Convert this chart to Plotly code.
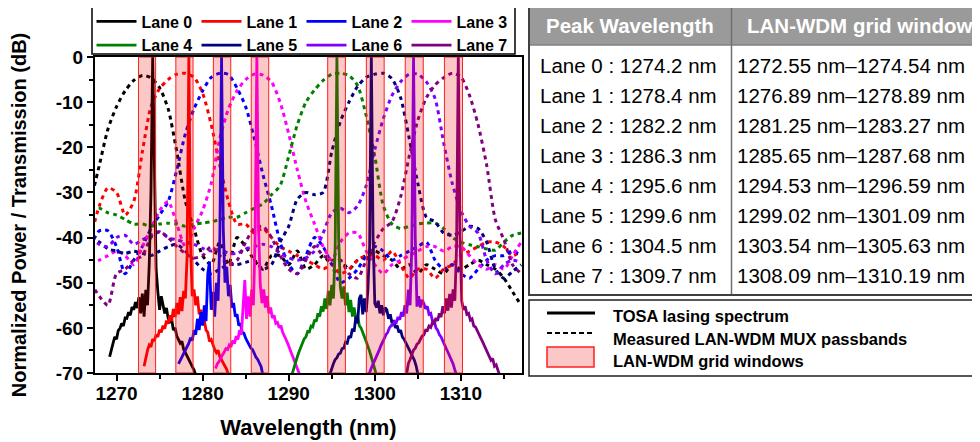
import plotly.graph_objects as go

FONT = "Liberation Sans, Arial, sans-serif"

LANES = ["Lane 0", "Lane 1", "Lane 2", "Lane 3", "Lane 4", "Lane 5", "Lane 6", "Lane 7"]
COLORS = ["#000000", "#ff0000", "#0000ff", "#ff00ff", "#008000", "#000080", "#8000ff", "#800080"]
PEAKS = [1274.2, 1278.4, 1282.2, 1286.3, 1295.6, 1299.6, 1304.5, 1309.7]
WIN_LO = [1272.55, 1276.89, 1281.25, 1285.65, 1294.53, 1299.02, 1303.54, 1308.09]
WIN_HI = [1274.54, 1278.89, 1283.27, 1287.68, 1296.59, 1301.09, 1305.63, 1310.19]

X_TICKS = [1270, 1280, 1290, 1300, 1310]
Y_TICKS = [0, -10, -20, -30, -40, -50, -60, -70]
Y_TICK_TEXT = ["0", "-10", "-20", "-30", "-40", "-50", "-60", "-70"]

# TOSA lasing spectra (dB), sampled every 0.2 nm from the start wavelength
TOSA_START = [1269.2, 1273.2, 1277.2, 1281.5, 1290.4, 1294.8, 1299.3, 1303.7]
TOSA_STEP = 0.2
TOSA_0 = [-66.4, -64.5, -63.4, -62.0, -62.5, -60.6, -60.1, -59.0, -59.6, -57.8,
          -57.9, -56.5, -57.2, -55.4, -56.0, -54.3, -55.6, -53.2, -56.8, -52.4,
          -57.5, -51.6, -55.0, -46.0, -30.0, 0.0, -28.0, -47.0, -52.0, -56.0,
          -53.0, -55.3, -56.8, -55.6, -57.9, -58.6, -58.0, -60.5, -60.0, -61.8,
          -62.5, -63.4, -63.0, -64.8, -65.5, -66.4, -67.0, -67.8, -68.6, -69.3, -70.5]
TOSA_1 = [-68.5, -66.5, -65.0, -63.8, -64.2, -62.5, -62.9, -61.5, -62.0, -60.4,
          -61.0, -59.5, -60.2, -58.4, -59.1, -57.2, -58.5, -55.8, -57.6, -54.5,
          -57.0, -53.2, -56.3, -51.8, -53.5, -44.0, 0.0, -42.0, -53.0, -51.5,
          -55.0, -53.0, -57.0, -56.0, -58.6, -58.4, -60.5, -61.0, -63.0, -62.6,
          -64.0, -64.8, -65.5, -65.0, -66.4, -67.2, -67.8, -68.5, -69.2, -70.5]
TOSA_2 = [-68.0, -67.2, -66.4, -65.6, -64.8, -64.0, -63.4, -62.2, -62.8, -60.5,
          -61.5, -58.0, -60.5, -56.5, -59.5, -55.0, -58.5, -48.0, -45.3, -56.0,
          -52.0, -57.5, -50.0, -54.0, -40.0, 0.0, -38.0, -50.0, -46.5, -53.0,
          -50.5, -55.5, -54.5, -57.5, -57.0, -59.5, -59.0, -61.0, -61.2, -62.3,
          -63.0, -63.6, -64.5, -64.8, -65.8, -66.5, -67.0, -67.8, -68.6, -70.5]
TOSA_3 = [-69.0, -68.0, -67.5, -66.6, -66.0, -65.4, -64.6, -64.8, -63.8, -64.2,
          -62.8, -63.5, -61.8, -62.6, -60.5, -61.5, -56.0, -49.4, -58.0, -53.0,
          -57.5, -51.5, -55.0, -40.0, 0.0, -38.0, -50.5, -54.5, -51.5, -55.5,
          -53.0, -56.8, -55.5, -57.8, -57.2, -59.0, -58.8, -60.0, -59.5, -61.0,
          -61.8, -62.5, -63.5, -64.5, -65.5, -66.4, -67.3, -68.4, -69.5, -70.5]
TOSA_4 = [-70.2, -68.8, -67.5, -66.4, -65.3, -64.2, -63.5, -62.4, -62.0, -60.8,
          -60.9, -59.6, -59.8, -58.2, -58.6, -56.8, -57.5, -55.2, -56.4, -53.5,
          -55.8, -51.8, -55.0, -50.5, -53.5, -42.0, 0.0, -40.0, -51.0, -53.5,
          -50.8, -55.0, -52.2, -56.5, -53.8, -57.5, -55.5, -58.0, -57.2, -59.5,
          -60.0, -61.2, -62.0, -63.0, -64.0, -65.2, -66.5, -68.0, -69.5, -70.5]
TOSA_5 = [-70.2, -68.8, -67.9, -67.0, -66.6, -65.8, -65.6, -64.6, -64.5, -63.2,
          -63.4, -61.8, -62.2, -60.2, -60.8, -57.5, -59.0, -53.5, -52.7, -57.0,
          -53.5, -56.5, -51.5, -42.0, 0.0, -40.0, -54.6, -55.5, -54.0, -56.8,
          -55.0, -57.2, -55.5, -56.0, -58.0, -57.0, -59.0, -58.3, -60.0, -59.5,
          -61.0, -60.5, -62.0, -62.5, -63.4, -64.0, -64.8, -65.6, -66.4, -67.2,
          -68.4, -70.2]
TOSA_6 = [-70.4, -69.3, -68.4, -67.6, -66.8, -66.0, -65.0, -64.0, -63.0, -62.4,
          -61.5, -61.0, -60.0, -59.5, -59.4, -58.6, -58.8, -57.6, -58.2, -56.5,
          -57.5, -55.0, -56.8, -51.5, -55.0, -42.0, 0.0, -40.0, -55.3, -53.0,
          -55.5, -53.8, -54.6, -55.8, -55.2, -57.0, -56.8, -58.5, -58.4, -60.0,
          -60.5, -61.5, -62.0, -63.0, -63.6, -64.6, -65.4, -66.2, -67.0, -68.0,
          -69.3, -70.5]
TOSA_7 = [-70.2, -67.9, -67.0, -66.0, -64.9, -64.5, -63.6, -63.3, -62.7, -61.8,
          -61.6, -60.5, -60.6, -59.6, -59.9, -58.8, -59.2, -57.8, -58.4, -56.8,
          -57.6, -55.2, -56.8, -53.5, -56.2, -52.5, -55.5, -51.5, -54.0, -42.0,
          0.0, -40.0, -54.0, -56.0, -55.2, -57.0, -56.8, -58.3, -58.0, -59.6,
          -59.8, -60.5, -61.5, -62.2, -63.0, -63.8, -64.6, -65.5, -66.4, -67.2,
          -66.8, -68.5, -68.2, -69.5, -70.5]
TOSA = [TOSA_0, TOSA_1, TOSA_2, TOSA_3, TOSA_4, TOSA_5, TOSA_6, TOSA_7]

# Measured LAN-WDM MUX passbands (dB), one value per nm from 1267 to 1317 nm
PB_WL = list(range(1267, 1318))
PB_0 = [-32, -24, -16, -11, -7.5, -5.2, -4.1, -4.6, -6.8, -11.5,
        -21, -32, -38, -44, -46, -41, -46, -40, -42, -45,
        -47, -44, -44, -46, -43, -47, -46, -44, -46, -45,
        -47, -45, -44, -43, -44, -45, -47, -46, -48, -46,
        -47, -48, -46, -47, -46, -45, -46, -47, -49, -52, -55]
PB_1 = [-40, -33, -29, -30, -35, -32, -21, -11, -7, -5,
        -3.8, -3.6, -4.5, -8, -15, -24, -32, -37, -37, -39,
        -38, -40, -42, -43, -44, -45, -46, -47, -46, -48,
        -47, -45, -44, -44, -45, -43, -46, -49, -47, -47,
        -49, -47, -46, -44, -43, -42, -41, -41, -42, -44, -43]
PB_2 = [-42, -38.5, -38.5, -42, -48, -45, -42, -38, -35, -32,
        -25, -17, -11.5, -7.5, -4.5, -3.6, -3.9, -6.9, -11, -18,
        -26, -33, -41, -46, -48, -44, -40, -42, -46, -50,
        -49, -47, -44, -42, -43, -45, -44, -43, -42, -41,
        -45, -47, -46, -48, -49, -47, -45, -44, -44, -43, -44]
PB_3 = [-46, -45, -44, -43, -44, -46, -42, -38, -34, -32,
        -37, -42, -38, -34, -28, -18, -11.5, -7.5, -5, -3.8,
        -4, -5.5, -10, -17, -25, -32, -37, -42, -45, -41,
        -39, -39, -43, -46, -48, -46, -45, -44, -43, -42,
        -42, -43, -42, -42, -44, -46, -47, -46, -47, -44, -41]
PB_4 = [-34, -33.5, -34.5, -35, -36, -37, -37, -37.5, -37, -36.8,
        -37, -37.5, -37, -36.8, -36.5, -36, -35.5, -35.5, -34.5, -33.5,
        -32.5, -30.5, -28.5, -22, -15, -10, -7.3, -5.2, -3.8, -3.6,
        -4.1, -6.3, -13, -22, -33, -37, -38, -37.5, -37, -36.8,
        -36.8, -38, -40, -41, -41.6, -42, -42.5, -42.8, -41, -39.5, -39]
PB_5 = [-40, -41, -42.5, -43, -43.5, -43, -43.5, -44, -43, -42,
        -41.5, -43, -45, -47, -48, -47, -46, -46, -45.5, -45,
        -47, -46, -41, -37.5, -31.5, -30, -30.5, -30, -21, -14.3,
        -10, -6.5, -4.5, -3.8, -3.6, -4.8, -9, -18, -28, -35.5,
        -36.5, -39, -39.5, -38.7, -37.5, -38, -41, -47, -49, -47.5, -46]
PB_6 = [-40, -41.5, -42, -40, -39.5, -41.5, -40.5, -39.5, -38.7, -40,
        -40.5, -41, -41.5, -42.4, -43, -42.5, -43.5, -43.5, -42.5, -42,
        -41.5, -42, -43.5, -44.5, -45, -44.5, -43, -39, -34.5, -33.5,
        -34.5, -33, -28.5, -20.5, -13.6, -8.5, -5.5, -3.8, -3.8, -5.5,
        -9.2, -19, -28, -34, -37.5, -39, -45, -48, -46, -45, -45.5]
PB_7 = [-50, -53, -55, -48, -47, -45, -44, -40, -38.7, -40,
        -42, -43.5, -44.5, -44, -42, -44, -46, -45, -41, -38,
        -37.5, -40, -44, -47, -48, -45, -42, -44, -45, -45,
        -48, -49, -45, -41, -38, -36.5, -31, -22, -14, -9,
        -6.2, -4.6, -3.6, -4.4, -8.5, -15, -24, -36, -40.5, -46, -48]
PB = [PB_0, PB_1, PB_2, PB_3, PB_4, PB_5, PB_6, PB_7]

KEY_LABELS = ["TOSA lasing spectrum", "Measured LAN-WDM MUX passbands", "LAN-WDM grid windows"]
TABLE_HEAD = ["Peak Wavelength", "LAN-WDM grid window"]

# ---------------- layout geometry (pixels, page coordinates) ----------------
OFF = 8                      # page offset of the plot div inside the browser window
W_PX, H_PX = 980 - OFF, 442 - OFF
PL, PR, PT, PB_Y = 95, 522, 57, 373   # plot-area edges in page pixels
ML, MT = PL - OFF, PT - OFF
MR, MB = W_PX - (PR - OFF), H_PX - (PB_Y - OFF)
PW = PR - PL
PH = PB_Y - PT


def px(x):
    return (x - PL) / PW


def py(y):
    return (PB_Y - y) / PH


fig = go.Figure()

for i in range(8):
    fig.add_trace(go.Scatter(
        x=PB_WL, y=PB[i], mode="lines", showlegend=False, hoverinfo="skip",
        line=dict(color=COLORS[i], width=3, dash="4px,4px", shape="spline", smoothing=0.7)))

for i in range(8):
    xs = [round(TOSA_START[i] + TOSA_STEP * k, 2) for k in range(len(TOSA[i]))]
    fig.add_trace(go.Scatter(
        x=xs, y=TOSA[i], mode="lines", name=LANES[i],
        line=dict(color=COLORS[i], width=2.8)))

shapes = []
for lo, hi in zip(WIN_LO, WIN_HI):
    shapes.append(dict(type="rect", xref="x", yref="y", x0=lo, x1=hi, y0=-70, y1=0,
                       fillcolor="rgba(240,0,0,0.22)", line=dict(color="#ff2020", width=1),
                       layer="above"))

# frame of the lane legend (legend itself is borderless)
shapes.append(dict(type="rect", xref="paper", yref="paper", x0=px(92), x1=px(515),
                   y0=py(54), y1=py(7), fillcolor="white",
                   line=dict(color="black", width=1.5), layer="above"))

# table on the right
TL, TR, TT, TB, THB, TCOL = 529, 990, 7, 295, 45, 731.5
shapes.append(dict(type="rect", xref="paper", yref="paper", x0=px(TL), x1=px(TR),
                   y0=py(THB), y1=py(TT), fillcolor="#9a9a9a", line=dict(width=0)))
shapes.append(dict(type="line", xref="paper", yref="paper", x0=px(TL), x1=px(TR),
                   y0=py(THB), y1=py(THB), line=dict(color="#808080", width=1.5)))
shapes.append(dict(type="line", xref="paper", yref="paper", x0=px(TCOL), x1=px(TCOL),
                   y0=py(TB), y1=py(TT), line=dict(color="#707070", width=1.5)))
shapes.append(dict(type="rect", xref="paper", yref="paper", x0=px(TL), x1=px(TR),
                   y0=py(TB), y1=py(TT), line=dict(color="#404040", width=2)))

# key box
KL, KT, KB = 529, 300, 376
shapes.append(dict(type="rect", xref="paper", yref="paper", x0=px(KL), x1=px(TR),
                   y0=py(KB), y1=py(KT), line=dict(color="#202020", width=1.5)))
shapes.append(dict(type="line", xref="paper", yref="paper", x0=px(547), x1=px(595),
                   y0=py(313), y1=py(313), line=dict(color="black", width=3)))
shapes.append(dict(type="line", xref="paper", yref="paper", x0=px(547), x1=px(595),
                   y0=py(333), y1=py(333), line=dict(color="black", width=2, dash="5px,3px")))
shapes.append(dict(type="rect", xref="paper", yref="paper", x0=px(547), x1=px(594),
                   y0=py(367), y1=py(347), fillcolor="rgba(240,0,0,0.22)",
                   line=dict(color="#ff2020", width=1.5)))

annotations = []
annotations.append(dict(xref="paper", yref="paper", x=px(630), y=py(26), text=TABLE_HEAD[0],
                        showarrow=False, xanchor="center", yanchor="middle",
                        font=dict(family=FONT, size=20.5, color="white", weight="bold")))
annotations.append(dict(xref="paper", yref="paper", x=px(860), y=py(26), text=TABLE_HEAD[1],
                        showarrow=False, xanchor="center", yanchor="middle",
                        font=dict(family=FONT, size=20.5, color="white", weight="bold")))
for i in range(8):
    yy = py(65 + 30.1 * i)
    annotations.append(dict(xref="paper", yref="paper", x=px(538), y=yy,
                            text=f"Lane {i} : {PEAKS[i]:.1f} nm", showarrow=False,
                            xanchor="left", yanchor="middle",
                            font=dict(family=FONT, size=20.5, color="black")))
    annotations.append(dict(xref="paper", yref="paper", x=px(735), y=yy,
                            text=f"{WIN_LO[i]:.2f} nm\u2013{WIN_HI[i]:.2f} nm", showarrow=False,
                            xanchor="left", yanchor="middle",
                            font=dict(family=FONT, size=20.5, color="black")))
for lab, yc in zip(KEY_LABELS, [316, 339, 361]):
    annotations.append(dict(xref="paper", yref="paper", x=px(611), y=py(yc), text=lab,
                            showarrow=False, xanchor="left", yanchor="middle",
                            font=dict(family=FONT, size=16.5, color="black", weight="bold")))

fig.update_layout(
    width=W_PX, height=H_PX,
    margin=dict(l=ML, r=MR, t=MT, b=MB, autoexpand=False),
    paper_bgcolor="white", plot_bgcolor="white",
    font=dict(family=FONT, color="black"),
    shapes=shapes, annotations=annotations,
    hovermode=False,
    legend=dict(orientation="h", x=px(91.5), y=py(4.5), xanchor="left", yanchor="top",
                borderwidth=0, bgcolor="rgba(0,0,0,0)",
                font=dict(family=FONT, size=16, color="black", weight="bold"),
                entrywidth=50, itemwidth=40, tracegroupgap=0),
    xaxis=dict(range=[1267.5, 1317.1], tickvals=X_TICKS, ticks="outside", ticklen=6,
               tickwidth=1.5, tickcolor="black", showline=True, linecolor="black",
               linewidth=2, mirror=True, showgrid=False, zeroline=False,
               ticklabelstandoff=-4,
               tickfont=dict(family=FONT, size=19, color="black", weight="bold"),
               minor=dict(dtick=5, tick0=1265, ticks="outside", ticklen=4, tickcolor="black"),
               title=dict(text="Wavelength (nm)", standoff=17,
                          font=dict(family=FONT, size=22, color="black", weight="bold"))),
    yaxis=dict(range=[-70, 0], tickvals=Y_TICKS, ticktext=Y_TICK_TEXT, ticks="outside",
               ticklen=6, tickwidth=1.5, tickcolor="black", showline=True, linecolor="black",
               linewidth=2, mirror=True, showgrid=False, zeroline=False,
               tickfont=dict(family=FONT, size=19, color="black", weight="bold"),
               minor=dict(dtick=5, tick0=0, ticks="outside", ticklen=4, tickcolor="black"),
               title=dict(text="Normalized Power / Transmission (dB)", standoff=24,
                          font=dict(family=FONT, size=20, color="black", weight="bold"))),
)

fig.write_html("out.html")
